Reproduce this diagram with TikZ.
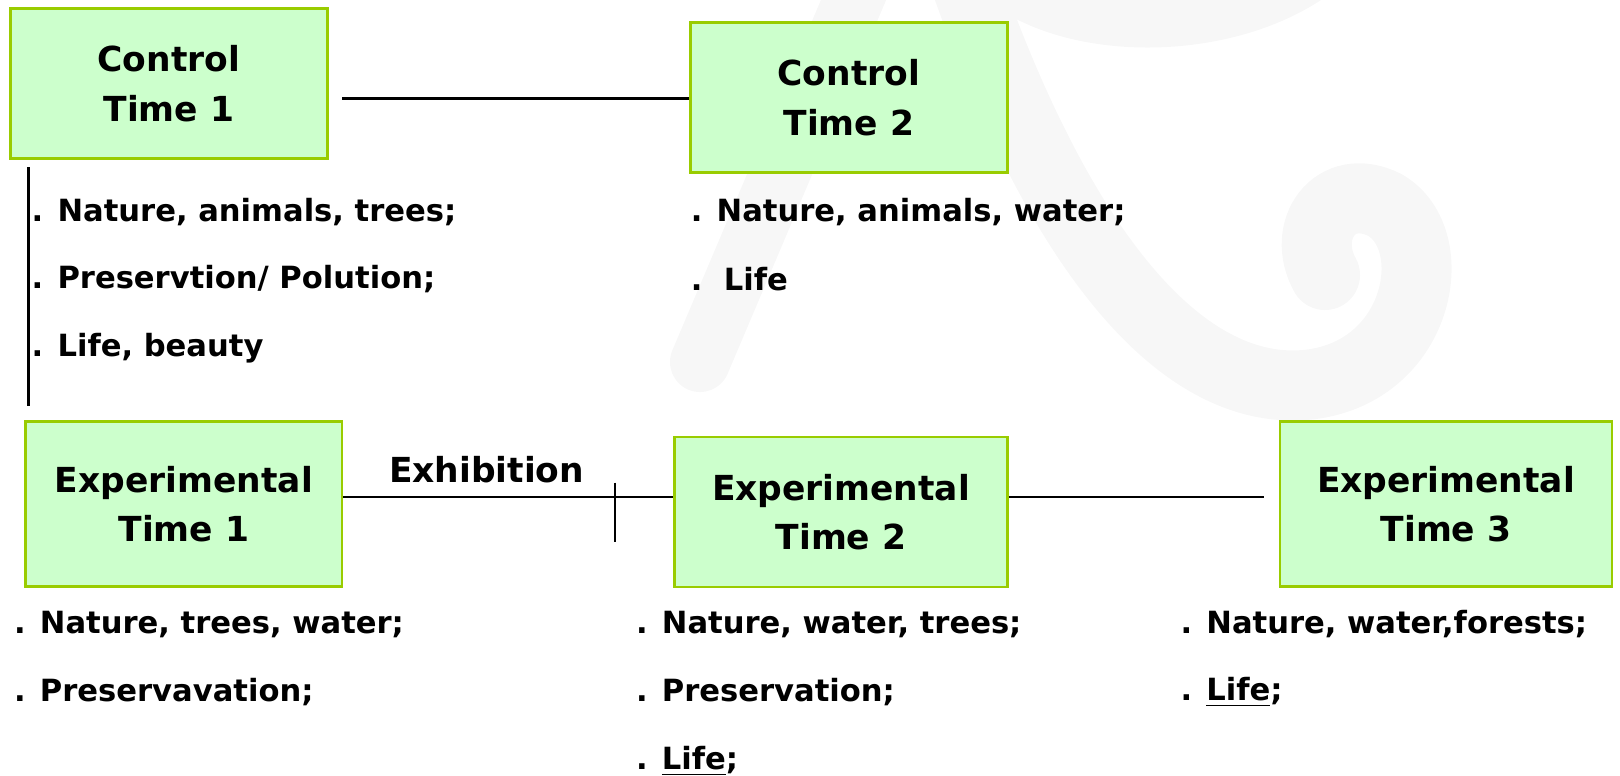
\documentclass[tikz,border=0pt]{standalone}
\usepackage{fontspec}
\setmainfont{DejaVu Sans}
\usepackage{tikz}
\usetikzlibrary{positioning, calc}
\definecolor{boxfill}{RGB}{204,255,204}
\definecolor{boxline}{RGB}{153,204,0}
\definecolor{wmgray}{RGB}{247,247,247}

\begin{document}
\begin{tikzpicture}[x=0.01cm, y=-0.01cm,
    timebox/.style={draw=boxline, fill=boxfill, line width=0.75pt, minimum width=3.17cm, minimum height=1.5cm, align=center, font=\fontsize{9.8}{14.1}\selectfont\bfseries},
    item/.style={anchor=west, inner sep=0pt, font=\fontsize{8.7}{11}\selectfont\bfseries},
    link/.style={line width=0.8pt},
    watermark/.style={wmgray, line cap=round},
]
  \useasboundingbox (0,0) rectangle (1620,775);
  \begin{scope}
    \clip (0,0) rectangle (1620,775);
    \draw[watermark, line width=0.6cm] (700,362) -- (862,-20);
    \draw[watermark, line width=0.7cm] (965,-20) .. controls (1060,250) and (1180,395) .. (1305,385)
        .. controls (1420,375) and (1445,240) .. (1385,205) .. controls (1335,180) and (1300,230) .. (1325,275);
    \draw[watermark, line width=0.5cm] (990,-30) .. controls (1060,40) and (1230,40) .. (1320,-30);
  \end{scope}

  \node[timebox] (ct1) at (168.9,83.7) {Control\\Time 1};
  \node[timebox] (ct2) at (848.8,97.6) {Control\\Time 2};
  \node[timebox, minimum width=3.16cm, minimum height=1.65cm] (et1) at (183.9,504.2) {Experimental\\Time 1};
  \node[timebox, minimum width=3.33cm] (et2) at (841.0,512.0) {Experimental\\Time 2};
  \node[timebox, minimum width=3.32cm, minimum height=1.65cm] (et3) at (1446.0,504.2) {Experimental\\Time 3};

  \coordinate (ctstart) at (342,98.2);
  \coordinate (etlevel) at (0,497);
  \coordinate (etend) at (1263.6,497);
  \coordinate (bartop) at (28.9,167.4);
  \coordinate (barbot) at (28.9,406);
  \coordinate (ticktop) at (614.8,482.5);
  \coordinate (tickbot) at (614.8,542.4);

  \draw[link] (ctstart) -- (ctstart -| ct2.west);
  \draw[link] (bartop) -- (barbot);
  \draw[link] (et1.east |- etlevel) -- (et2.west |- etlevel);
  \draw[link] (et2.east |- etlevel) -- (etend);
  \draw[line width=0.4pt] (ticktop) -- (tickbot);
  \node[font=\fontsize{9.8}{12}\selectfont\bfseries] (exhib) at (486.6,470.1) {Exhibition};

  \node[item] (ct1a) at (31,211.8) {. Nature, animals, trees;};
  \node[item] (ct1b) at (31,279.0) {. Preservtion/ Polution;};
  \node[item] (ct1c) at (31,348.2) {. Life, beauty};

  \node[item] (ct2a) at (690.2,211.8) {. Nature, animals, water;};
  \node[item] (ct2b) at (690.2,279.0) {.\ \ Life};

  \node[item] (et1a) at (13.4,624.1) {. Nature, trees, water;};
  \node[item] (et1b) at (13.4,692.2) {. Preservavation;};

  \node[item] (et2a) at (635.4,624.1) {. Nature, water, trees;};
  \node[item] (et2b) at (635.4,692.2) {. Preservation;};
  \node[item] (et2c) at (635.4,761.5) {. \underline{Life};};

  \node[item] (et3a) at (1179.9,624.1) {. Nature, water,forests;};
  \node[item] (et3b) at (1179.9,692.2) {. \underline{Life};};
\end{tikzpicture}
\end{document}
